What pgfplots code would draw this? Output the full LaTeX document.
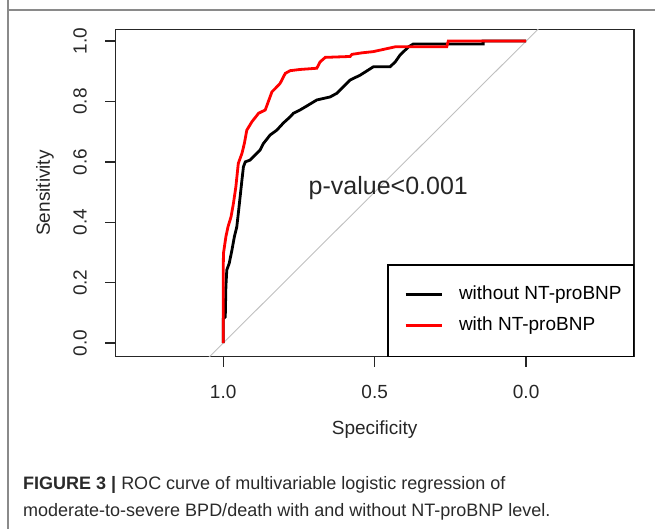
\documentclass[border=0pt]{standalone}
\usepackage{fontspec}
\setmainfont{Liberation Sans}
\newfontfamily\capfont{Liberation Sans}
\usepackage{pgfplots}
\pgfplotsset{compat=1.18}
\definecolor{framegray}{HTML}{8A8A8A}
\definecolor{diaggray}{HTML}{C0C0C0}
\definecolor{capcol}{HTML}{2A2A2A}
\begin{document}
\begin{tikzpicture}
\draw[framegray, line width=1.6pt] (8pt,529pt) -- (8pt,519pt) -- (655pt,519pt);
\draw[framegray, line width=1.6pt] (8pt,0pt) -- (8pt,519pt);
\begin{axis}[
  at={(115.3pt,172.3pt)}, anchor=south west,
  scale only axis, width=518.7pt, height=327.4pt,
  x dir=reverse,
  xmin=-0.356, xmax=1.356, ymin=-0.045, ymax=1.039,
  axis line style={draw=black!85, line width=1.5pt},
  xtick={0,0.5,1}, xticklabels={0.0,0.5,1.0},
  ytick={0,0.2,0.4,0.6,0.8,1.0}, yticklabels={0.0,0.2,0.4,0.6,0.8,1.0},
  xtick pos=bottom, ytick pos=left,
  tick align=outside, major tick length=10pt,
  tick style={draw=black!85, line width=1.3pt},
  every tick label/.append style={font=\fontsize{19}{22}\selectfont, text=black!85},
  xticklabel style={anchor=center, yshift=-25.3pt},
  yticklabel style={anchor=center, rotate=90, yshift=25.3pt},
  xlabel={Specificity}, ylabel={Sensitivity},
  label style={font=\fontsize{19}{22}\selectfont, text=black!85},
  xlabel style={at={(axis description cs:0.5,0)}, anchor=center, yshift=-73.3pt},
  ylabel style={at={(axis description cs:0,0.5)}, anchor=center, yshift=70.3pt},
  legend style={draw=none, fill=none, at={(rel axis cs:0.5566,0.218)}, anchor=north west,
    font=\fontsize{19}{22}\selectfont, inner sep=0pt,
    nodes={inner sep=0pt, text height=14pt, text depth=4pt},
    row sep=13pt, column sep=16pt},
  legend cell align=left,
  legend image code/.code={\draw[#1] (0pt,0pt) -- (36pt,0pt);},
  clip=true,
]
\addplot[diaggray, line width=0.9pt, forget plot] coordinates {(1.2,-0.2) (-0.2,1.2)};
\addplot[black, line width=2.8pt, line join=miter] table {
1.000 0.000
1.000 0.080
0.993 0.087
0.991 0.186
0.988 0.242
0.980 0.264
0.971 0.308
0.963 0.352
0.955 0.385
0.950 0.429
0.944 0.484
0.938 0.540
0.933 0.584
0.927 0.600
0.911 0.606
0.894 0.623
0.878 0.639
0.867 0.661
0.845 0.689
0.823 0.705
0.801 0.729
0.779 0.749
0.768 0.761
0.746 0.772
0.724 0.785
0.691 0.805
0.647 0.815
0.625 0.827
0.614 0.838
0.581 0.871
0.548 0.887
0.504 0.915
0.449 0.915
0.432 0.931
0.416 0.954
0.388 0.981
0.373 0.990
0.142 0.990
0.142 1.000
0.000 1.000
};
\addlegendentry{without NT-proBNP}
\addplot[red, line width=2.8pt, line join=miter] table {
1.000 0.000
1.000 0.109
1.000 0.220
0.999 0.297
0.991 0.352
0.984 0.385
0.974 0.418
0.966 0.463
0.958 0.518
0.950 0.595
0.938 0.628
0.930 0.661
0.922 0.705
0.905 0.733
0.883 0.761
0.861 0.772
0.839 0.832
0.828 0.843
0.812 0.860
0.795 0.893
0.779 0.902
0.746 0.906
0.691 0.910
0.680 0.931
0.663 0.946
0.581 0.949
0.575 0.956
0.542 0.961
0.505 0.965
0.482 0.970
0.432 0.981
0.262 0.981
0.257 1.000
0.000 1.000
};
\addlegendentry{with NT-proBNP}
\draw[black, line width=1.3pt] (rel axis cs:0.5257,0) rectangle (rel axis cs:1,0.280);
\node[font=\fontsize{25}{28}\selectfont, text=black!85] at (axis cs:0.455,0.512) {p-value<0.001};
\end{axis}
\node[anchor=base west, text=capcol, inner sep=0pt, font=\capfont\fontsize{18}{20}\selectfont] at (23pt,39pt) {\textbf{FIGURE 3 |} ROC curve of multivariable logistic regression of};
\node[anchor=base west, text=capcol, inner sep=0pt, font=\capfont\fontsize{18}{20}\selectfont] at (23pt,12pt) {moderate-to-severe BPD/death with and without NT-proBNP level.};
\pgfresetboundingbox
\path (0pt,0pt) rectangle (655pt,529pt);
\end{tikzpicture}
\end{document}
